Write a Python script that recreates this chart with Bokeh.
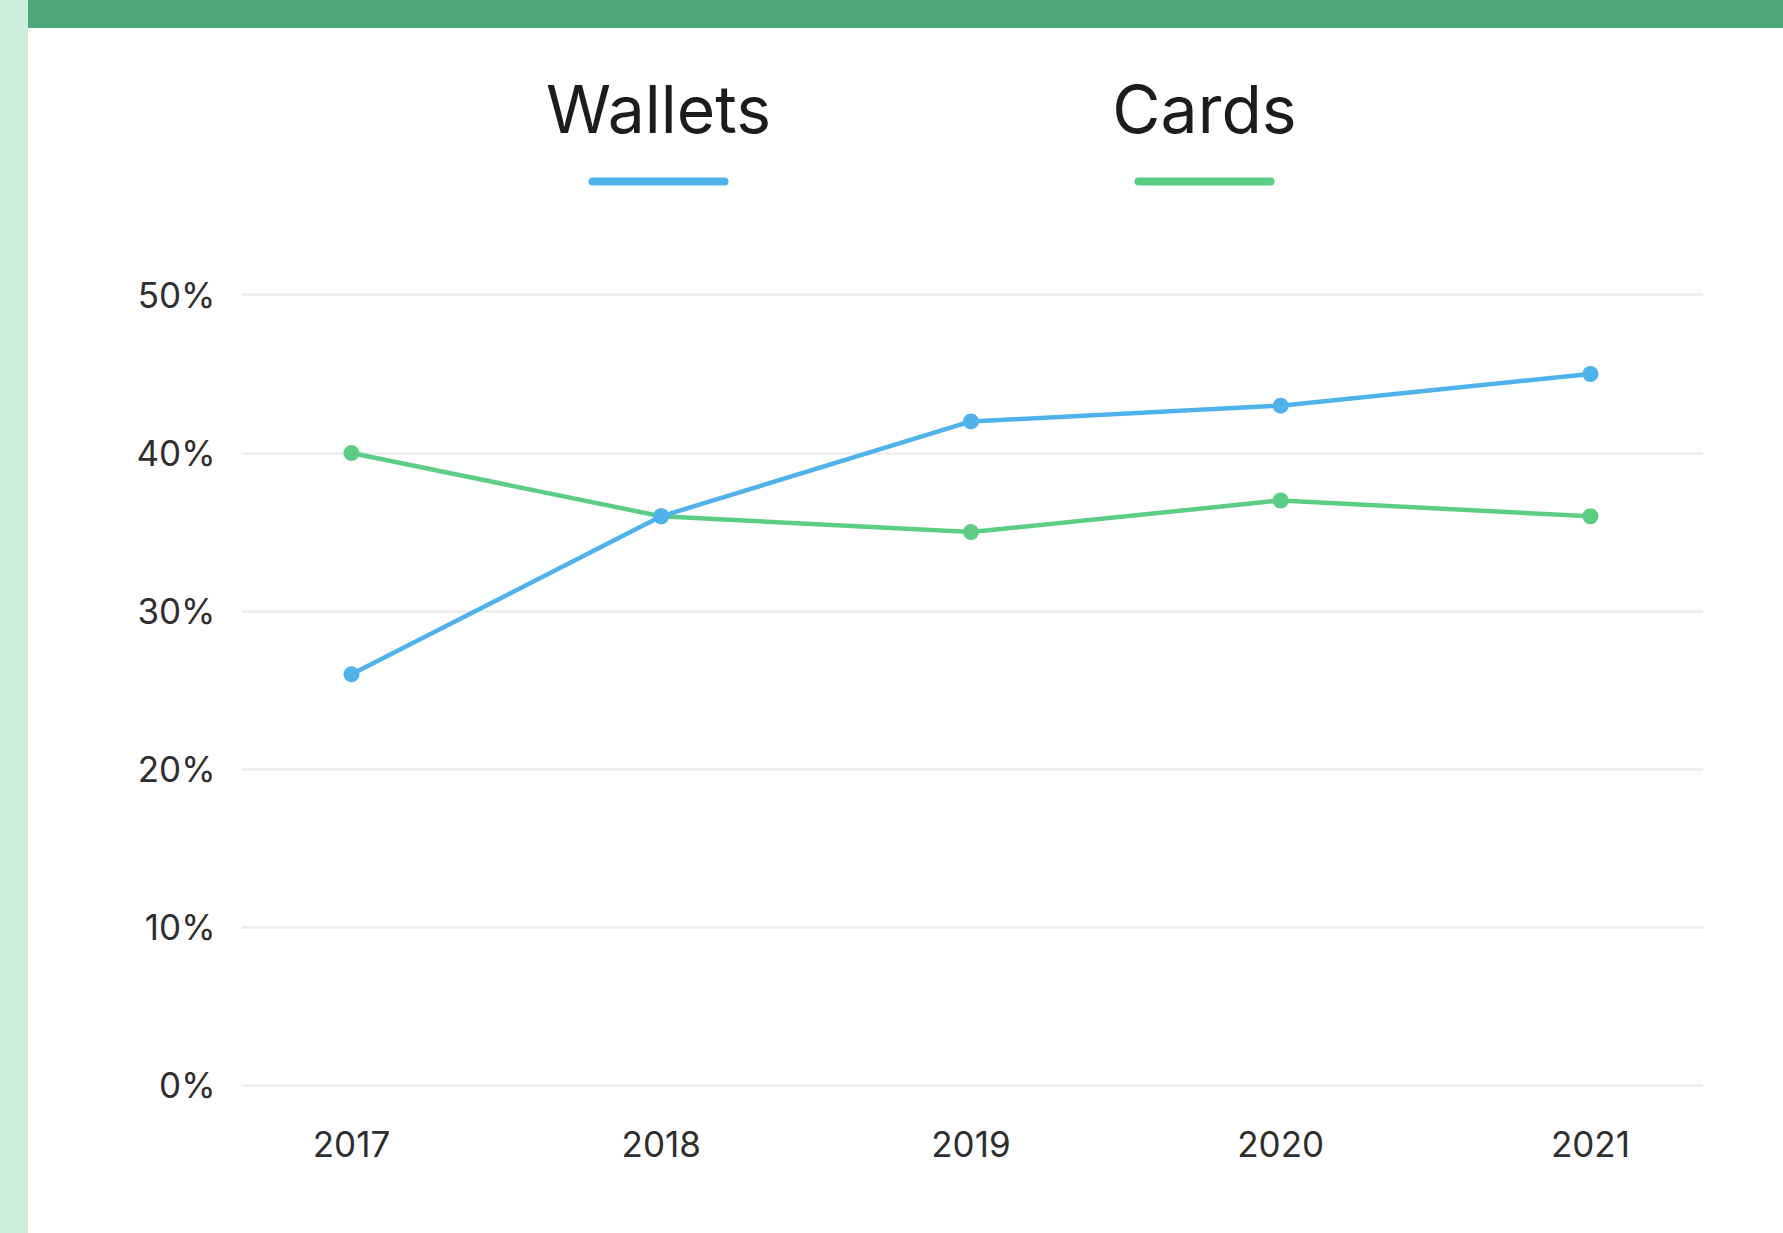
from bokeh.plotting import figure
from bokeh.models import Range1d, FixedTicker, BoxAnnotation, Label, PrintfTickFormatter, Div
from bokeh.layouts import row, column
from bokeh.embed import file_html
from bokeh.resources import INLINE

# ---- data ----
years = [2017, 2018, 2019, 2020, 2021]
wallets = [26, 36, 42, 43, 45]
cards = [40, 36, 35, 37, 36]
y_ticks = [0, 10, 20, 30, 40, 50]
series_names = ["Wallets", "Cards"]

# ---- styles ----
BLUE = "#4fb2ea"
GREEN = "#5ccd85"
BAR_GREEN = "#4fa77a"
STRIP = "#cdeedd"
TEXT = "#2e2e2e"
FONT = "Inter"

W, H = 1783, 1233
EDGE = 28                      # width of left strip / height of top bar
PW, PH = W - EDGE, H - EDGE    # figure size
FL, FR, FT, FB = 241 - EDGE, 1703 - EDGE, 0, 1096 - EDGE   # frame in figure px
X0, X1 = 2016.645, 2021.365
PX_PER_UNIT = 15.806
Y0 = -0.709
Y1 = 50 + (294.5 - EDGE) / PX_PER_UNIT

p = figure(width=PW, height=PH, output_backend="svg", toolbar_location=None,
           x_range=Range1d(X0, X1), y_range=Range1d(Y0, Y1),
           min_border_left=FL, min_border_right=PW - FR,
           min_border_top=FT, min_border_bottom=PH - FB)
p.outline_line_color = None
p.background_fill_color = "white"
p.border_fill_color = "white"

p.xgrid.visible = False
p.ygrid.grid_line_color = "#ececec"
p.ygrid.grid_line_width = 2.5

p.xaxis.ticker = FixedTicker(ticks=years)
p.xaxis.formatter = PrintfTickFormatter(format="%d")
p.yaxis.ticker = FixedTicker(ticks=y_ticks)
p.yaxis.formatter = PrintfTickFormatter(format="%d%%")
for ax in (p.xaxis[0], p.yaxis[0]):
    ax.axis_line_color = None
    ax.major_tick_line_color = None
    ax.minor_tick_line_color = None
    ax.major_label_text_font = FONT
    ax.major_label_text_font_size = "35px"
    ax.major_label_text_color = TEXT
p.yaxis.major_label_standoff = 20
p.xaxis.major_label_standoff = 28

# lines (green under blue)
p.line(years, cards, line_color=GREEN, line_width=4.5)
p.scatter(years, cards, size=16, fill_color=GREEN, line_color=None)
p.line(years, wallets, line_color=BLUE, line_width=4.5)
p.scatter(years, wallets, size=16, fill_color=BLUE, line_color=None)


def cx(px):
    return X0 + (px - EDGE - FL) / (FR - FL) * (X1 - X0)


def cy(py):
    return Y1 - (py - EDGE - FT) / (FB - FT) * (Y1 - Y0)


# custom legend: label above a coloured bar
for name, color, xc in zip(series_names, [BLUE, GREEN], [658, 1204]):
    p.add_layout(Label(x=cx(xc), y=cy(108), text=name, text_align="center",
                       text_baseline="middle", text_font=FONT,
                       text_font_size="66px", text_color="#1c1c1c"))
    p.add_layout(BoxAnnotation(left=cx(xc - 70), right=cx(xc + 70),
                               top=cy(177), bottom=cy(185),
                               fill_color=color, fill_alpha=1, line_color=None,
                               border_radius=4))

strip = Div(text="", width=EDGE, height=H, margin=(0, 0, 0, 0),
            styles={"background-color": STRIP})
bar = Div(text="", width=PW, height=EDGE, margin=(0, 0, 0, 0),
          styles={"background-color": BAR_GREEN})
page = row(strip, column(bar, p, spacing=0), spacing=0)

open("out.html", "w").write(file_html(page, INLINE))
